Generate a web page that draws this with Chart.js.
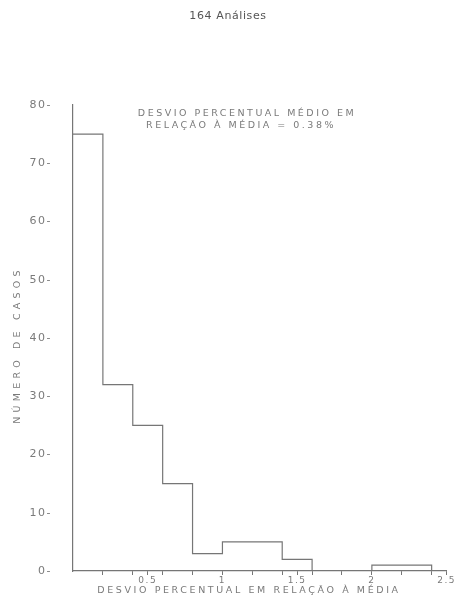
<!DOCTYPE html>
<html>
<head>
<meta charset="utf-8">
<script src="https://cdn.jsdelivr.net/npm/chart.js@4"></script>
<style>
  html, body { margin: 0; padding: 0; background: #fff; }
  #wrap { width: 456px; height: 602px; }
</style>
</head>
<body>
<div id="wrap"><canvas id="histChart"></canvas></div>
<script>
// Datos del histograma (164 análises)
const binEdges = [0, 0.2, 0.4, 0.6, 0.8, 1.0, 1.2, 1.4, 1.6, 1.8, 2.0, 2.2, 2.4];
const binCounts = [75, 32, 25, 15, 3, 5, 5, 2, 0, 0, 1, 1];
const yTicks = [0, 10, 20, 30, 40, 50, 60, 70, 80];
const xLabels = [0.5, 1, 1.5, 2, 2.5];

const chartTitle = '164 Análises';
const noteLines = ['DESVIO PERCENTUAL MÉDIO EM', 'RELAÇÃO À MÉDIA = 0.38%'];
const xTitle = 'DESVIO PERCENTUAL EM RELAÇÃO À MÉDIA';
const yTitle = 'NÚMERO DE CASOS';

const lineColor = '#767676';
const textColor = '#7a7a7a';
const fontFamily = "'DejaVu Sans', sans-serif";

// puntos del contorno escalonado
const points = binCounts.map((c, i) => ({ x: binEdges[i], y: c }));
points.push({ x: binEdges[binEdges.length - 1], y: 0 });

const near = (v, step) => Math.abs(v / step - Math.round(v / step)) < 1e-6;

// espaciado de letras para las etiquetas de los ejes
const spacingPlugin = {
    id: 'spacing',
    beforeUpdate(chart) { chart.ctx.letterSpacing = '1.5px'; },
    beforeDraw(chart) { chart.ctx.letterSpacing = '1.5px'; }
};

// título, nota y títulos de ejes
const textPlugin = {
    id: 'texts',
    afterDraw(chart) {
        const ctx = chart.ctx;
        ctx.save();
        ctx.textAlign = 'center';
        ctx.textBaseline = 'middle';

        ctx.fillStyle = '#555';
        ctx.letterSpacing = '0.6px';
        ctx.font = "11px " + fontFamily;
        ctx.fillText(chartTitle, 228, 16);

        ctx.fillStyle = textColor;
        ctx.letterSpacing = '2.5px';
        ctx.font = "9.5px " + fontFamily;
        ctx.fillText(noteLines[0], 247, 114);
        ctx.fillText(noteLines[1], 241, 126);

        ctx.letterSpacing = '2.6px';
        ctx.fillText(xTitle, 249, 591);

        ctx.translate(18, 345);
        ctx.rotate(-Math.PI / 2);
        ctx.letterSpacing = '4.2px';
        ctx.fillText(yTitle, 0, 0);
        ctx.restore();
    }
};

new Chart(document.getElementById('histChart'), {
    type: 'line',
    data: {
        datasets: [{
            data: points,
            stepped: 'before',
            borderColor: lineColor,
            borderWidth: 1.2,
            pointRadius: 0,
            fill: false,
            tension: 0
        }]
    },
    options: {
        responsive: true,
        maintainAspectRatio: false,
        animation: false,
        layout: { padding: { top: 105, right: 0, bottom: 0, left: 0 } },
        plugins: {
            legend: { display: false },
            tooltip: { enabled: false }
        },
        scales: {
            x: {
                type: 'linear',
                min: 0,
                max: 2.5,
                afterFit(scale) { scale.height = 31; },
                border: { color: lineColor, width: 1.2 },
                grid: {
                    drawOnChartArea: false,
                    tickLength: 4,
                    tickWidth: 1,
                    tickColor: c => {
                        const v = c.tick ? c.tick.value : 0;
                        if (v === 0) return 'rgba(0,0,0,0)';
                        return (near(v, 0.2) || near(v, 0.5)) ? lineColor : 'rgba(0,0,0,0)';
                    }
                },
                ticks: {
                    stepSize: 0.1,
                    autoSkip: false,
                    maxRotation: 0,
                    padding: 0,
                    color: textColor,
                    font: { family: fontFamily, size: 9 },
                    callback: v => xLabels.some(l => Math.abs(l - v) < 1e-6) ? String(v) : ''
                }
            },
            y: {
                min: 0,
                max: 80,
                afterFit(scale) { scale.width = 73; },
                afterBuildTicks(scale) { scale.ticks = yTicks.map(v => ({ value: v })); },
                border: { color: lineColor, width: 1.2 },
                grid: { drawOnChartArea: false, drawTicks: false },
                ticks: {
                    padding: 21,
                    color: textColor,
                    font: { family: fontFamily, size: 11 },
                    callback: v => v + '-'
                }
            }
        }
    },
    plugins: [spacingPlugin, textPlugin]
});
</script>
</body>
</html>
